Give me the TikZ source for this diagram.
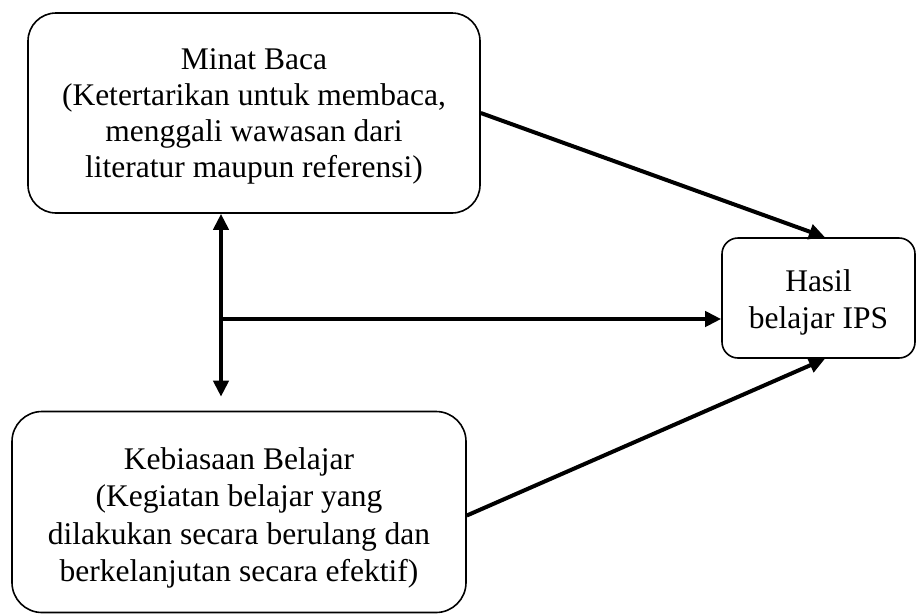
\documentclass[tikz,border=0pt]{standalone}
\usepackage{fontspec}
\setmainfont{Liberation Serif}
\usetikzlibrary{arrows.meta,calc}
\begin{document}
\begin{tikzpicture}[x=1pt,y=-1pt,
 box/.style={draw,line width=1.6pt,rounded corners=#1,inner sep=0pt},
 txt/.style={align=center,inner sep=0pt,font=\fontsize{31.5}{#1}\selectfont},
 arr/.style={line width=4pt,-{Triangle[length=16pt,width=15pt]}},
 dbl/.style={line width=4pt,{Triangle[length=16pt,width=15pt]}-{Triangle[length=16pt,width=15pt]}}]
\useasboundingbox (0,0) rectangle (917,614);
\node[box=28pt,minimum width=452pt,minimum height=200pt] (minat) at (254,113) {};
\node[txt=36] (minattext) at ([yshift=-3pt]minat.center)
  {Minat Baca\\(Ketertarikan untuk membaca,\\menggali wawasan dari\\literatur maupun referensi)};
\node[box=30pt,minimum width=454pt,minimum height=201pt] (kebiasaan) at (239,512) {};
\node[txt=37.5] (kebiasaantext) at ([yshift=-6pt]kebiasaan.center)
  {Kebiasaan Belajar\\(Kegiatan belajar yang\\dilakukan secara berulang dan\\berkelanjutan secara efektif)};
\node[box=16pt,minimum width=193pt,minimum height=120pt] (hasil) at (818.5,298) {};
\node[txt=37] (hasiltext) at ([yshift=-4pt]hasil.center) {Hasil\\belajar IPS};
\coordinate (j) at (221,319);
\draw[dbl] (minat.south -| j) -- ([yshift=14pt]kebiasaan.north -| j);
\draw[arr] (j) -- (j -| hasil.west);
\draw[arr] (minat.east) -- ([xshift=6.5pt]hasil.north);
\draw[arr] ([yshift=-3.5pt]kebiasaan.east) -- ([xshift=6.5pt]hasil.south);
\end{tikzpicture}
\end{document}
